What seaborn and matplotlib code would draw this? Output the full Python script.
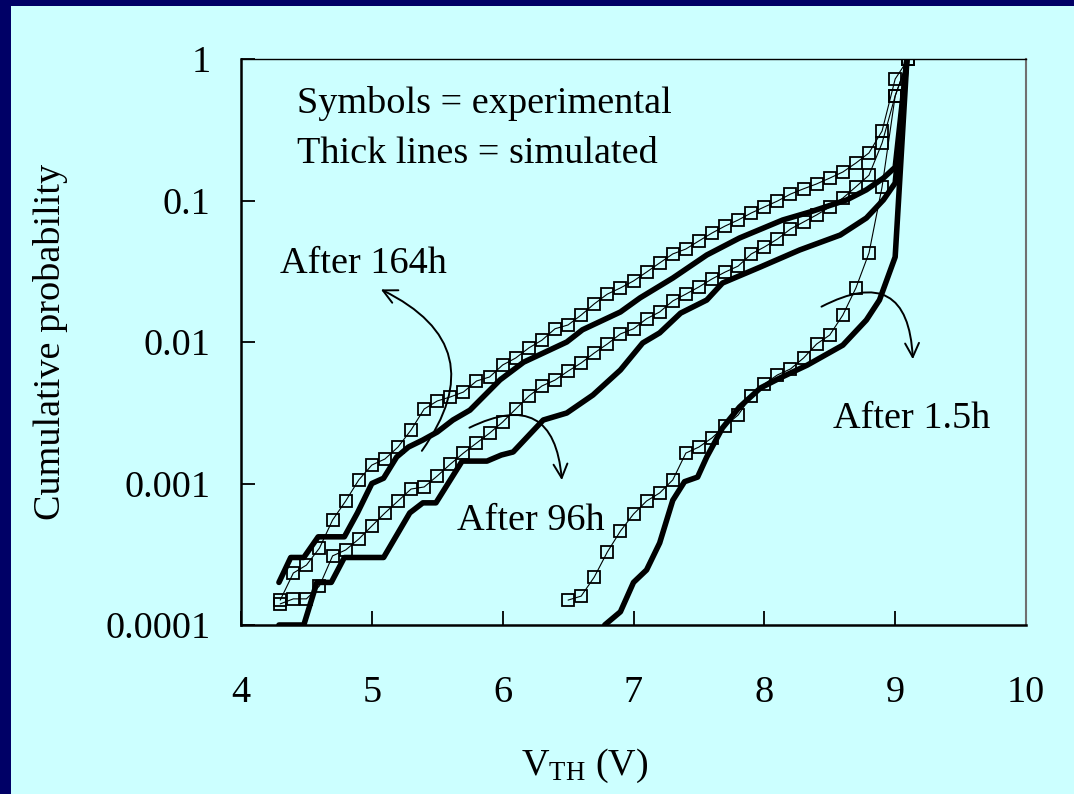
import numpy as np
import pandas as pd
import matplotlib
matplotlib.use("Agg")
import matplotlib.pyplot as plt
import seaborn as sns
from matplotlib.patches import FancyArrowPatch, Rectangle

# ---------------- data ----------------
# experimental (symbols): threshold voltage grid and cumulative probability
v_exp_164 = [4.3, 4.4, 4.5, 4.6, 4.7, 4.8, 4.9, 5.0, 5.1, 5.2, 5.3, 5.4, 5.5, 5.6, 5.7, 5.8,
             5.9, 6.0, 6.1, 6.2, 6.3, 6.4, 6.5, 6.6, 6.7, 6.8, 6.9, 7.0, 7.1, 7.2, 7.3, 7.4,
             7.5, 7.6, 7.7, 7.8, 7.9, 8.0, 8.1, 8.2, 8.3, 8.4, 8.5, 8.6, 8.7, 8.8, 8.9, 9.0, 9.1]
p_exp_164 = [1.50e-4, 2.33e-4, 2.65e-4, 3.50e-4, 5.52e-4, 7.52e-4, 1.06e-3, 1.35e-3, 1.49e-3,
             1.81e-3, 2.39e-3, 3.36e-3, 3.83e-3, 4.09e-3, 4.43e-3, 5.30e-3, 5.66e-3, 6.88e-3,
             7.71e-3, 9.08e-3, 1.03e-2, 1.24e-2, 1.32e-2, 1.55e-2, 1.86e-2, 2.18e-2, 2.41e-2,
             2.70e-2, 3.12e-2, 3.62e-2, 4.19e-2, 4.54e-2, 5.18e-2, 5.89e-2, 6.60e-2, 7.28e-2,
             8.16e-2, 9.00e-2, 9.91e-2, 0.111, 0.121, 0.131, 0.144, 0.159, 0.184, 0.217, 0.310,
             0.722, 1.0]

v_exp_96 = list(v_exp_164)
p_exp_96 = [1.41e-4, 1.53e-4, 1.53e-4, 1.89e-4, 3.08e-4, 3.39e-4, 4.05e-4, 5.01e-4, 6.19e-4,
            7.52e-4, 9.14e-4, 9.45e-4, 1.13e-3, 1.37e-3, 1.64e-3, 1.93e-3, 2.27e-3, 2.72e-3,
            3.36e-3, 4.15e-3, 4.89e-3, 5.38e-3, 6.23e-3, 7.11e-3, 8.36e-3, 9.68e-3, 1.14e-2,
            1.24e-2, 1.46e-2, 1.63e-2, 1.95e-2, 2.18e-2, 2.45e-2, 2.79e-2, 3.12e-2, 3.44e-2,
            4.19e-2, 4.69e-2, 5.34e-2, 6.29e-2, 7.05e-2, 7.91e-2, 9.00e-2, 0.104, 0.125, 0.151,
            0.255, 0.548, 1.0]

v_exp_15 = [6.5, 6.6, 6.7, 6.8, 6.9, 7.0, 7.1, 7.2, 7.3, 7.4, 7.5, 7.6, 7.7, 7.8, 7.9, 8.0,
            8.1, 8.2, 8.3, 8.4, 8.5, 8.6, 8.7, 8.8, 8.9, 9.0, 9.1]
p_exp_15 = [1.50e-4, 1.60e-4, 2.18e-4, 3.28e-4, 4.61e-4, 6.08e-4, 7.52e-4, 8.57e-4, 1.06e-3,
            1.64e-3, 1.81e-3, 2.10e-3, 2.55e-3, 3.05e-3, 4.15e-3, 5.05e-3, 5.85e-3, 6.45e-3,
            7.71e-3, 9.68e-3, 1.12e-2, 1.55e-2, 2.41e-2, 4.26e-2, 0.125, 0.548, 1.0]

# simulated (thick lines)
v_sim_164 = [4.29, 4.38, 4.48, 4.59, 4.79, 4.89, 5.00, 5.09, 5.19, 5.28, 5.39, 5.50, 5.62, 5.75,
             5.98, 6.16, 6.49, 6.61, 6.90, 7.05, 7.30, 7.56, 7.81, 8.14, 8.35, 8.63, 8.78, 8.91,
             9.00, 9.09]
p_sim_164 = [2.0e-4, 3.0e-4, 3.0e-4, 4.2e-4, 4.2e-4, 6.2e-4, 1.0e-3, 1.09e-3, 1.54e-3, 1.81e-3,
             2.03e-3, 2.31e-3, 2.81e-3, 3.3e-3, 5.4e-3, 7.2e-3, 1.0e-2, 1.22e-2, 1.63e-2, 2.05e-2,
             2.83e-2, 4.12e-2, 5.43e-2, 7.28e-2, 8.3e-2, 0.101, 0.119, 0.144, 0.172, 1.0]

v_sim_96 = [4.29, 4.48, 4.58, 4.69, 4.79, 5.09, 5.29, 5.39, 5.49, 5.69, 5.88, 5.99, 6.08, 6.31,
            6.49, 6.69, 6.90, 7.07, 7.20, 7.36, 7.56, 7.68, 7.97, 8.27, 8.58, 8.78, 8.91, 9.00, 9.09]
p_sim_96 = [1.0e-4, 1.0e-4, 2.0e-4, 2.0e-4, 3.0e-4, 3.0e-4, 6.2e-4, 7.3e-4, 7.3e-4, 1.44e-3,
            1.44e-3, 1.59e-3, 1.67e-3, 2.81e-3, 3.15e-3, 4.22e-3, 6.34e-3, 9.84e-3, 1.16e-2,
            1.60e-2, 1.98e-2, 2.61e-2, 3.39e-2, 4.47e-2, 5.7e-2, 7.52e-2, 0.101, 0.133, 1.0]

v_sim_15 = [6.78, 6.90, 7.00, 7.10, 7.20, 7.30, 7.39, 7.49, 7.56, 7.68, 7.81, 7.97, 8.12, 8.33,
            8.60, 8.78, 8.88, 9.00, 9.09]
p_sim_15 = [1.0e-4, 1.24e-4, 2.0e-4, 2.45e-4, 3.8e-4, 7.6e-4, 1.03e-3, 1.11e-3, 1.54e-3,
            2.47e-3, 3.47e-3, 4.73e-3, 5.57e-3, 6.88e-3, 9.5e-3, 1.43e-2, 1.98e-2, 3.99e-2, 1.0]

x_ticks = [4, 5, 6, 7, 8, 9, 10]
y_ticks = [1e-4, 1e-3, 1e-2, 1e-1, 1]
y_tick_labels = ["0.0001", "0.001", "0.01", "0.1", "1"]

# ---------------- style ----------------
BG = "#CCFFFF"
NAVY = "#000066"
FS = 27.5

sns.set_theme(style="ticks")
plt.rcParams["font.family"] = ["Liberation Serif", "DejaVu Serif"]
plt.rcParams["mathtext.fontset"] = "custom"
plt.rcParams["mathtext.rm"] = "Liberation Serif"
plt.rcParams["mathtext.it"] = "Liberation Serif:italic"
for k in ["text.color", "axes.labelcolor", "xtick.color", "ytick.color", "axes.edgecolor"]:
    plt.rcParams[k] = "black"

fig = plt.figure(figsize=(10.74, 7.94), dpi=100, facecolor=BG)
ax = fig.add_axes([241 / 1074, 1 - 625 / 794, (1026 - 241) / 1074, (625 - 59) / 794])
ax.set_facecolor(BG)

# navy frame strips (top and left)
fig.patches.append(Rectangle((0, 1 - 6 / 794), 1, 6 / 794, transform=fig.transFigure,
                             facecolor=NAVY, edgecolor="none", zorder=0))
fig.patches.append(Rectangle((0, 0), 11 / 1074, 1, transform=fig.transFigure,
                             facecolor=NAVY, edgecolor="none", zorder=0))

def sim(v, p):
    df = pd.DataFrame({"v": v, "p": p})
    sns.lineplot(data=df, x="v", y="p", ax=ax, color="black", lw=4.0, sort=False,
                 estimator=None, solid_joinstyle="round", solid_capstyle="round", zorder=3)

def exp(v, p):
    df = pd.DataFrame({"v": v, "p": p})
    sns.lineplot(data=df, x="v", y="p", ax=ax, color="black", lw=0.8, sort=False,
                 estimator=None, marker="s", markersize=8.5, markerfacecolor="none",
                 markeredgecolor="black", markeredgewidth=1.3, zorder=4)

sim(v_sim_164, p_sim_164)
sim(v_sim_96, p_sim_96)
sim(v_sim_15, p_sim_15)
exp(v_exp_164, p_exp_164)
exp(v_exp_96, p_exp_96)
exp(v_exp_15, p_exp_15)

ax.set_yscale("log")
ax.set_xlim(4, 10)
ax.set_ylim(1e-4, 1)
ax.set_xticks(x_ticks)
ax.set_xticklabels([str(t) for t in x_ticks])
ax.set_yticks(y_ticks)
ax.set_yticklabels(y_tick_labels)
ax.minorticks_off()
ax.yaxis.set_minor_locator(matplotlib.ticker.NullLocator())
ax.tick_params(axis="both", direction="in", length=10, width=1.3, colors="black",
               labelsize=FS, labelcolor="black")
ax.tick_params(axis="x", pad=36)
ax.tick_params(axis="y", pad=22)

for side in ["left", "bottom"]:
    ax.spines[side].set_color("black")
    ax.spines[side].set_linewidth(1.8)
ax.spines["top"].set_color("black")
ax.spines["top"].set_linewidth(1.0)
ax.spines["right"].set_color("#707070")
ax.spines["right"].set_linewidth(1.5)

ax.set_xlabel(r"V$_{\mathrm{TH}}$ (V)", fontsize=FS, color="black")
ax.set_ylabel("Cumulative probability", fontsize=FS, color="black")
ax.xaxis.set_label_coords(0.438, -0.215)
ax.yaxis.set_label_coords(-0.22, 0.5)

# annotations
ax.text(4.43, 0.415, "Symbols = experimental", fontsize=FS, va="baseline", ha="left", color="black")
ax.text(4.43, 0.184, "Thick lines = simulated", fontsize=FS, va="baseline", ha="left", color="black")
ax.text(4.30, 0.0307, "After 164h", fontsize=FS, va="baseline", ha="left", color="black")
ax.text(5.65, 4.69e-4, "After 96h", fontsize=FS, va="baseline", ha="left", color="black")
ax.text(8.525, 2.47e-3, "After 1.5h", fontsize=FS, va="baseline", ha="left", color="black")

def arrow(a, b, rad):
    ar = FancyArrowPatch(a, b, connectionstyle=f"arc3,rad={rad}",
                         arrowstyle="->,head_length=0.5,head_width=0.25",
                         mutation_scale=20, lw=1.4, color="black", zorder=5)
    ax.add_patch(ar)

arrow((5.37, 1.64e-3), (5.05, 0.024), 0.6)
arrow((5.727, 2.43e-3), (6.454, 1.01e-3), -0.75)
arrow((8.418, 0.0174), (9.136, 7.22e-3), -0.8)

fig.savefig("out.png", dpi=100, facecolor=BG)
